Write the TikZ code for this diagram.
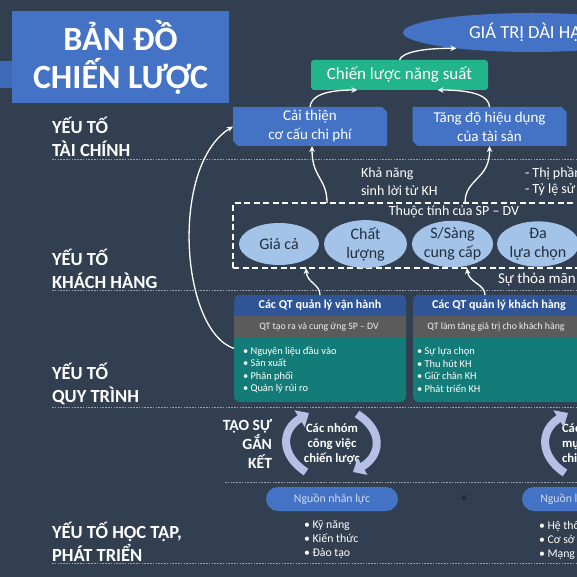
\documentclass[tikz,border=0pt]{standalone}
\usepackage{fontspec}
\setmainfont{Carlito}
\usetikzlibrary{shapes.geometric,shapes.misc,arrows.meta,calc}
\definecolor{bgc}{HTML}{323F50}
\definecolor{tblue}{HTML}{4472C4}
\definecolor{sliver}{HTML}{3E6BB8}
\definecolor{sgreen}{HTML}{22B48A}
\definecolor{lblue}{HTML}{A4C3E8}
\definecolor{etext}{HTML}{22303F}
\definecolor{hblue}{HTML}{2F5597}
\definecolor{sgray}{HTML}{5B5B5B}
\definecolor{teal1}{HTML}{147C78}
\definecolor{lav}{HTML}{B4C0E4}
\definecolor{pilltext}{HTML}{D0DBF2}
\definecolor{sepc}{HTML}{98A1AD}
\newcommand\fsz[2]{\fontsize{#1}{#2}\selectfont}
\begin{document}
\begin{tikzpicture}[x=1pt,y=-1pt,
  every node/.style={inner sep=0pt,outer sep=0pt},
  lbl/.style={text=white,font=\bfseries\fsz{18.5}{23},align=left,anchor=west},
  sep/.style={draw=sepc,line width=0.6pt,dash pattern=on 1.6pt off 1.2pt},
  warrow/.style={draw=white,line width=1.3pt,-{Stealth[length=6pt,width=5.5pt]}},
  bbox/.style={rectangle,minimum width=154pt,minimum height=39pt,text=white,
    font=\fsz{15}{19},align=center,
    path picture={\fill[tblue] (path picture bounding box.north west)
      -- ([xshift=-5pt]path picture bounding box.north east)
      -- ([yshift=-5pt]path picture bounding box.north east)
      -- (path picture bounding box.south east)
      -- ([xshift=5pt]path picture bounding box.south west)
      -- ([yshift=5pt]path picture bounding box.south west) -- cycle;}},
  attr/.style={ellipse,fill=lblue,text=etext,font=\fsz{16}{19},align=center,minimum height=42pt},
  blk/.style={draw=lav,line width=8pt,-{Triangle[width=19pt,length=11pt]}},
  pbox/.style={rectangle,rounded corners=6pt,fill=teal1,minimum width=172pt,minimum height=107pt},
  hdr/.style={text=white,font=\bfseries\fsz{12.1}{14}},
  subh/.style={text=white!88!gray,font=\fsz{9.8}{12}},
  bul/.style={text=white,font=\fsz{10.4}{12.6},align=left,anchor=west},
  pill/.style={rounded rectangle,fill=tblue,text=pilltext,font=\fsz{11.8}{14},minimum width=132pt,minimum height=24pt},
  bul2/.style={text=white,font=\fsz{11.8}{14},align=left,anchor=west},
  grp/.style={text=white,font=\bfseries\fsz{12.7}{15},align=center}
]
\useasboundingbox (0,0) rectangle (577,577);
\clip (0,0) rectangle (577,577);
\fill[bgc] (0,0) rectangle (577,577);

% title
\fill[sliver] (0,61) rectangle (12,88);
\node[fill=tblue,minimum width=217pt,minimum height=92pt,text=white,
  font=\bfseries\fsz{34}{38},align=center] (title) at (120.5,57) {BẢN ĐỒ\\CHIẾN LƯỢC};

% separators
\draw[sep] (52,159) -- (577,159);
\draw[sep] (52,290) -- (577,290);
\draw[sep] (52,407) -- (577,407);
\draw[sep] (225,482) -- (577,482);
\draw[sep] (52,563) -- (577,563);

% left labels
\node[lbl] (lf) at (52,136.5) {YẾU TỐ\\TÀI CHÍNH};
\node[lbl] (lc) at (52,269) {YẾU TỐ\\KHÁCH HÀNG};
\node[lbl] (lp) at (52,383.5) {YẾU TỐ\\QUY TRÌNH};
\node[lbl] (ll) at (52,541.5) {YẾU TỐ HỌC TẬP,\\PHÁT TRIỂN};

% financial
\node[ellipse,fill=tblue,minimum width=256pt,minimum height=39pt,text=white,
  font=\fsz{18.5}{22}] (gtdh) at (531,32.5) {GIÁ TRỊ DÀI HẠN};
\node[fill=sgreen,rounded corners=3pt,minimum width=177pt,minimum height=30pt,
  text=white,font=\fsz{17}{20}] (green) at (399.5,75) {Chiến lược năng suất};
\node[bbox] (lbox) at (310,126.5) {Cải thiện\\cơ cấu chi phí};
\node[bbox] (rbox) at (489.5,126.5) {Tăng độ hiệu dụng\\của tài sản};

% customer
\node[text=white,font=\fsz{14}{18},align=left,anchor=west] (kn) at (361,182) {Khả năng\\sinh lời từ KH};
\node[text=white,font=\fsz{14}{16},align=left,anchor=west] (tp) at (525,181) {- Thị phần\\- Tỷ lệ sử dụng};
\node[draw=white,line width=1.3pt,dash pattern=on 6pt off 3.5pt,minimum width=470pt,minimum height=65pt] (attrbox) at (468,235.5) {};
\node[text=white,font=\fsz{14}{16}] (attrt) at (454,212) {Thuộc tính của SP – DV};
\node[attr,minimum width=80pt] (e1) at (279,244) {Giá cả};
\node[attr,minimum width=83pt] (e2) at (365.5,244) {Chất\\lượng};
\node[attr,minimum width=81pt] (e3) at (452.5,244) {S/Sàng\\cung cấp};
\node[attr,minimum width=82pt] (e4) at (538,244) {Đa\\lựa chọn};
\node[text=white,font=\fsz{15}{18},anchor=west] (stm) at (498,280) {Sự thỏa mãn};

% process
\node[pbox] (pbox1) at (320,348.5) {};
\node[pbox] (pbox2) at (499,348.5) {};
\begin{scope}
\clip[rounded corners=6pt] (pbox1.north west) rectangle (pbox1.south east);
\fill[hblue] (pbox1.north west) rectangle ([yshift=-21pt]pbox1.north east);
\fill[sgray] ([yshift=-21pt]pbox1.north west) rectangle ([yshift=-42pt]pbox1.north east);
\end{scope}
\begin{scope}
\clip[rounded corners=6pt] (pbox2.north west) rectangle (pbox2.south east);
\fill[hblue] (pbox2.north west) rectangle ([yshift=-21pt]pbox2.north east);
\fill[sgray] ([yshift=-21pt]pbox2.north west) rectangle ([yshift=-42pt]pbox2.north east);
\end{scope}
\node[hdr] (p1h) at (320,305.5) {Các QT quản lý vận hành};
\node[subh] (p1s) at (319,326.5) {QT tạo ra và cung ứng SP – DV};
\node[bul] (p1b) at (243,370) {• Nguyên liệu đầu vào\\• Sản xuất\\• Phân phối\\• Quản lý rủi ro};
\node[hdr] (p2h) at (499,305.5) {Các QT quản lý khách hàng};
\node[subh] (p2s) at (496,326.5) {QT làm tăng giá trị cho khách hàng};
\node[bul] (p2b) at (417,370) {• Sự lựa chọn\\• Thu hút KH\\• Giữ chân KH\\• Phát triển KH};

% learning
\node[text=white,font=\bfseries\fsz{15.6}{19},align=right,anchor=east] (tao) at (272,444) {TẠO SỰ\\GẮN\\KẾT};
\node[grp] (grp1) at (332,444) {Các nhóm\\công việc\\chiến lược};
\coordinate (b1s) at (306,472);
\coordinate (b1e) at (309,413);
\coordinate (b2s) at (357,414);
\coordinate (b2e) at (353,472);
\draw[blk] (b1s) .. controls (280,455) and (281,430) .. (b1e);
\draw[blk] (b2s) .. controls (383,430) and (382,455) .. (b2e);
\node[text=white,font=\bfseries\fsz{12.7}{15},align=left,anchor=west] (grp2) at (562,444) {Các danh\\mục IT\\chiến lược};
\coordinate (b3s) at (565,473);
\coordinate (b3e) at (568,413);
\draw[blk] (b3s) .. controls (539,456) and (540,430) .. (b3e);
\node[pill] (hr) at (332,499) {Nguồn nhân lực};
\node[pill] (ir) at (588,499) {Nguồn lực thông tin};
\node[text=black!90,font=\fsz{13}{14}] (plus) at (464,499) {+};
\node[bul2] (hrl) at (304,540) {• Kỹ năng\\• Kiến thức\\• Đào tạo};
\node[bul2] (irl) at (539,540) {• Hệ thống\\• Cơ sở dữ liệu\\• Mạng};

% connectors
\draw[warrow] (green.north) .. controls (402,52) and (425,48) .. (gtdh.192);
\draw[warrow] (lbox.north) .. controls (311,96) and (325,90) .. ([xshift=-42pt]green.south);
\draw[warrow] (rbox.north) .. controls (489,96) and (474,90) .. ([xshift=38pt]green.south);
\draw[warrow] ([xshift=94pt]attrbox.north west) .. controls (327,178) and (312,178) .. ([xshift=2pt]lbox.south);
\draw[warrow] ([xshift=232pt]attrbox.north west) .. controls (465,178) and (490,180) .. (rbox.south);
\draw[warrow] (pbox1.west) .. controls (180,330) and (170,165) .. (lbox.west);
\draw[warrow] (pbox1.north) .. controls (320,284) and (307,283) .. ([xshift=73pt]attrbox.south west);
\draw[warrow] ([xshift=-14pt]pbox2.north) .. controls (485,284) and (469,283) .. ([xshift=234pt]attrbox.south west);
\end{tikzpicture}
\end{document}
